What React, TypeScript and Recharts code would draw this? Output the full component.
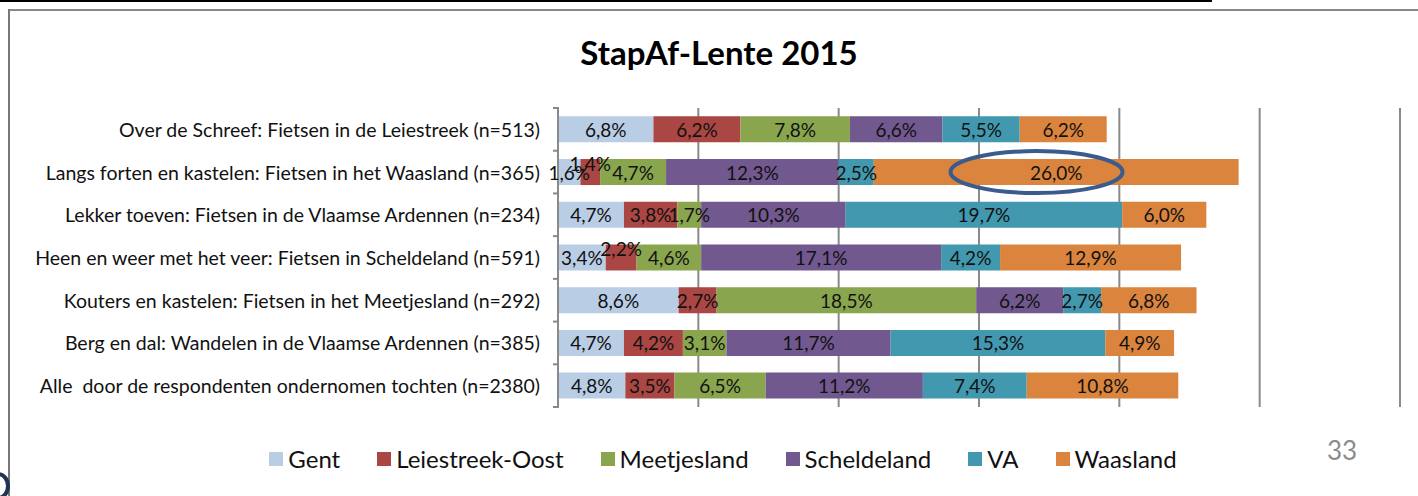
import React from 'react';
import { BarChart, Bar, XAxis, YAxis, CartesianGrid, Legend, LabelList, ReferenceDot } from 'recharts';

const categories = [
  'Over de Schreef: Fietsen in de Leiestreek (n=513)',
  'Langs forten en kastelen: Fietsen in het Waasland (n=365)',
  'Lekker toeven: Fietsen in de Vlaamse Ardennen (n=234)',
  'Heen en weer met het veer: Fietsen in Scheldeland (n=591)',
  'Kouters en kastelen: Fietsen in het Meetjesland (n=292)',
  'Berg en dal: Wandelen in de Vlaamse Ardennen (n=385)',
  'Alle  door de respondenten ondernomen tochten (n=2380)',
];

const gent = [6.8, 1.6, 4.7, 3.4, 8.6, 4.7, 4.8];
const leiestreek = [6.2, 1.4, 3.8, 2.2, 2.7, 4.2, 3.5];
const meetjesland = [7.8, 4.7, 1.7, 4.6, 18.5, 3.1, 6.5];
const scheldeland = [6.6, 12.3, 10.3, 17.1, 6.2, 11.7, 11.2];
const va = [5.5, 2.5, 19.7, 4.2, 2.7, 15.3, 7.4];
const waasland = [6.2, 26.0, 6.0, 12.9, 6.8, 4.9, 10.8];

const xTicks = [0, 10, 20, 30, 40, 50, 60];

const series = [
  { key: 'gent', name: 'Gent', color: '#B9CDE5' },
  { key: 'leiestreek', name: 'Leiestreek-Oost', color: '#AA4643' },
  { key: 'meetjesland', name: 'Meetjesland', color: '#89A54E' },
  { key: 'scheldeland', name: 'Scheldeland', color: '#71588F' },
  { key: 'va', name: 'VA', color: '#4198AF' },
  { key: 'waasland', name: 'Waasland', color: '#DB843D' },
];

const data = categories.map((name, i) => ({
  name,
  gent: gent[i],
  leiestreek: leiestreek[i],
  meetjesland: meetjesland[i],
  scheldeland: scheldeland[i],
  va: va[i],
  waasland: waasland[i],
}));

const FONT = 'Lato, "Open Sans", sans-serif';
const fmt = (v: number) => v.toFixed(1).replace('.', ',') + '%';

const makeLabel = (raiseSmall: boolean) => (props: any) => {
  const { x, y, width, height, value } = props;
  // small red segments get their label pushed up, like Excel did
  const dy = raiseSmall && width < 34 ? -9 : 0;
  return (
    <text
      x={x + width / 2}
      y={y + height / 2 + dy}
      textAnchor="middle"
      dominantBaseline="central"
      fontFamily={FONT}
      fontSize={19}
      fill="#111"
    >
      {fmt(value)}
    </text>
  );
};

const BAND = 299 / 7;

const CategoryTick = (props: any) => {
  const { x, y, payload, index } = props;
  return (
    <g>
      <line x1={x + 3} x2={x + 9} y1={y - BAND / 2} y2={y - BAND / 2} stroke="#888" strokeWidth={2} />
      {index === categories.length - 1 && (
        <line x1={x + 3} x2={x + 9} y1={y + BAND / 2} y2={y + BAND / 2} stroke="#888" strokeWidth={2} />
      )}
      <text
        x={x - 10}
        y={y}
        textAnchor="end"
        dominantBaseline="central"
        fontFamily={FONT}
        fontSize={19.5}
        fill="#111"
        style={{ whiteSpace: 'pre' }}
      >
        {payload.value}
      </text>
    </g>
  );
};

const LegendRow = () => (
  <div style={{ display: 'flex', justifyContent: 'center', gap: 37, fontFamily: FONT, fontSize: 24, color: '#111' }}>
    {series.map((s) => (
      <div key={s.key} style={{ display: 'flex', alignItems: 'center' }}>
        <span style={{ width: 14, height: 14, background: s.color, display: 'inline-block', marginRight: 5 }} />
        <span>{s.name}</span>
      </div>
    ))}
  </div>
);

const Ring = (props: any) => (
  <ellipse cx={props.cx} cy={props.cy} rx={86} ry={21} fill="none" stroke="#3B5B8C" strokeWidth={4} />
);

export default function App() {
  return (
    <div style={{ position: 'absolute', left: 0, top: 0, width: 1418, height: 496, background: '#fff', overflow: 'hidden' }}>
      <div style={{ position: 'absolute', left: 0, top: 0, width: 1212, height: 2, background: '#000' }} />
      <div style={{ position: 'absolute', left: 8, top: 9, width: 1420, height: 2, background: '#888' }} />
      <div style={{ position: 'absolute', left: 8, top: 9, width: 2, height: 500, background: '#777' }} />
      <div
        style={{
          position: 'absolute', left: -14, top: 472, width: 16, height: 20,
          border: '4px solid #1F3553', borderRadius: '50%',
        }}
      />
      <div
        style={{
          position: 'absolute', left: 0, width: 1438, top: 32, textAlign: 'center',
          fontFamily: FONT, fontWeight: 700, fontSize: 33, color: '#000',
        }}
      >
        StapAf-Lente 2015
      </div>
      <div style={{ position: 'absolute', left: 1327, top: 434, fontFamily: FONT, fontSize: 26, color: '#8C8C8C' }}>
        33
      </div>
      <div style={{ position: 'absolute', left: 0, top: 0 }}>
        <BarChart
          width={1418}
          height={496}
          data={data}
          layout="vertical"
          margin={{ top: 108, right: 18, bottom: 89, left: 0 }}
          barCategoryGap="19.5%"
        >
          <CartesianGrid horizontal={false} stroke="#8A8A8A" strokeWidth={2} />
          <XAxis type="number" domain={[0, 60]} ticks={xTicks} hide />
          <YAxis
            type="category"
            dataKey="name"
            width={558}
            axisLine={{ stroke: '#8A8A8A', strokeWidth: 2 }}
            tickLine={false}
            tick={<CategoryTick />}
            interval={0}
          />
          {series.map((s) => (
            <Bar key={s.key} dataKey={s.key} name={s.name} stackId="a" fill={s.color} isAnimationActive={false}>
              <LabelList dataKey={s.key} content={makeLabel(s.key === 'leiestreek')} />
            </Bar>
          ))}
          <ReferenceDot x={34.1} y={categories[1]} r={20} shape={<Ring />} ifOverflow="visible" />
          <Legend
            layout="vertical"
            align="center"
            verticalAlign="middle"
            content={<LegendRow />}
            wrapperStyle={{ position: 'absolute', left: 0, top: 444, width: 1446, height: 34 }}
          />
        </BarChart>
      </div>
    </div>
  );
}
